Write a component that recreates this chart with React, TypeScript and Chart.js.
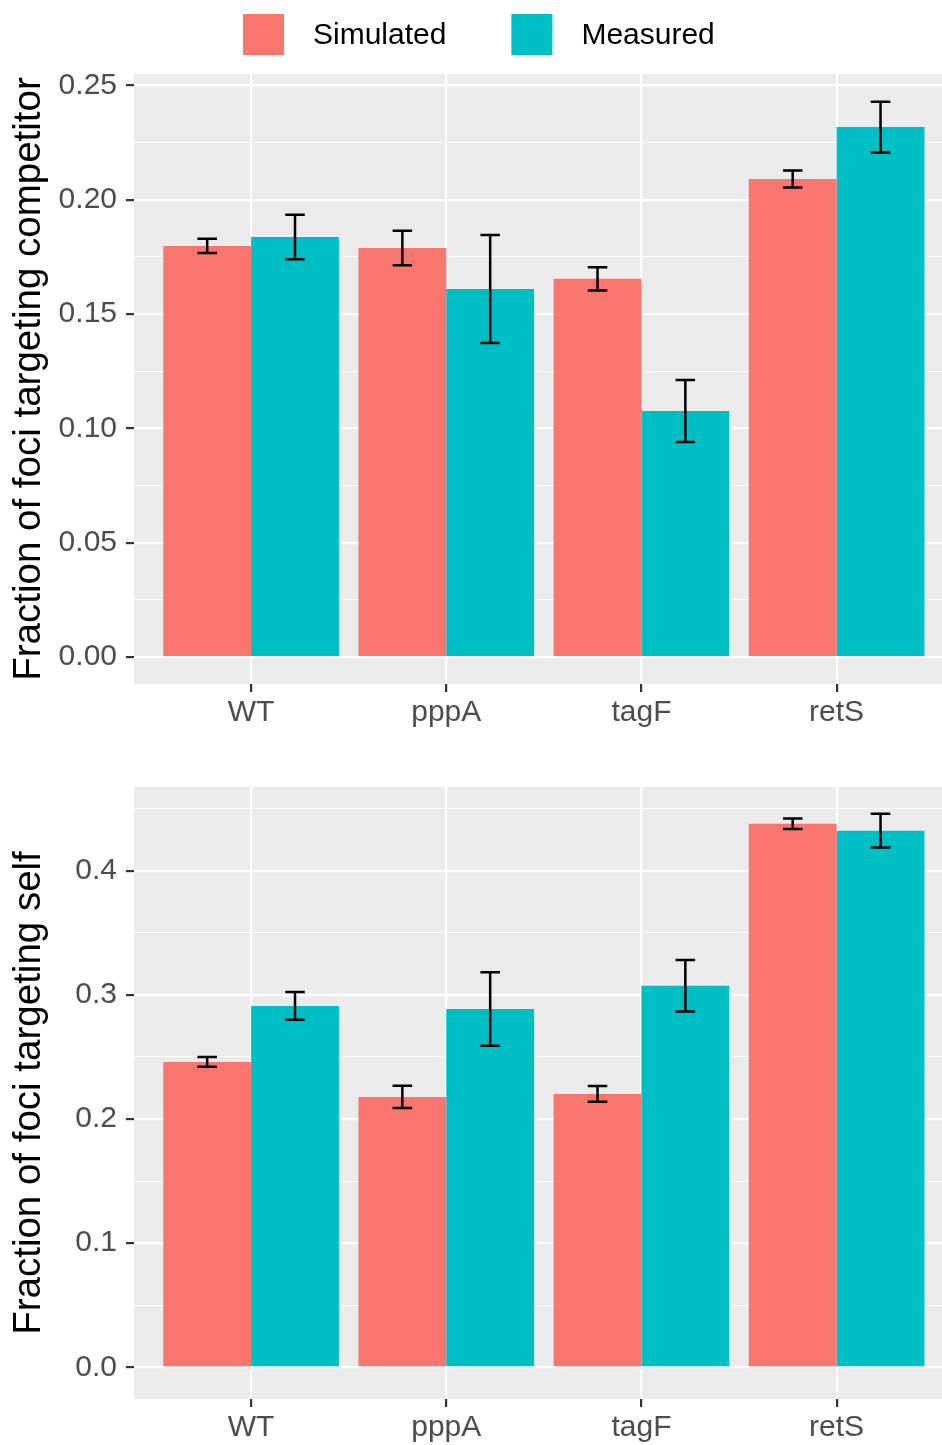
import React, { useEffect, useRef } from 'react';
import { Chart, registerables } from 'chart.js';

Chart.register(...registerables);

// ---------- data ----------
const categories = ['WT', 'pppA', 'tagF', 'retS'];
const seriesNames = ['Simulated', 'Measured'];
const seriesColors = ['#F8766D', '#00BFC4'];

const competitorSimulated = [0.1798, 0.1789, 0.1654, 0.2091];
const competitorSimulatedErr = [0.0031, 0.0075, 0.0051, 0.0037];
const competitorMeasured = [0.1837, 0.161, 0.1076, 0.2318];
const competitorMeasuredErr = [0.0097, 0.0236, 0.0136, 0.0111];

const selfSimulated = [0.246, 0.2178, 0.2202, 0.4378];
const selfSimulatedErr = [0.0039, 0.009, 0.0063, 0.0042];
const selfMeasured = [0.2911, 0.2887, 0.3073, 0.4322];
const selfMeasuredErr = [0.0112, 0.0296, 0.0208, 0.0136];

const competitorMajorTicks = [0, 0.05, 0.1, 0.15, 0.2, 0.25];
const competitorTickLabels = ['0.00', '0.05', '0.10', '0.15', '0.20', '0.25'];
const competitorMinorTicks = [0.025, 0.075, 0.125, 0.175, 0.225];
const competitorRange = [-0.0118, 0.255];

const selfMajorTicks = [0, 0.1, 0.2, 0.3, 0.4];
const selfTickLabels = ['0.0', '0.1', '0.2', '0.3', '0.4'];
const selfMinorTicks = [0.05, 0.15, 0.25, 0.35, 0.45];
const selfRange = [-0.0255, 0.4674];

const xRange = [0.4, 4.54];
const whiskerHalfWidth = 0.05;

const competitorTitle = 'Fraction of foci targeting competitor';
const selfTitle = 'Fraction of foci targeting self';

// ---------- styling ----------
const FONT = '"Liberation Sans", Arial, Helvetica, sans-serif';
Chart.defaults.font.family = FONT;

const panelBackground = {
  id: 'panelBackground',
  beforeDraw(chart: any) {
    const { ctx, chartArea: a } = chart;
    ctx.save();
    ctx.fillStyle = '#EBEBEB';
    ctx.fillRect(a.left, a.top, a.right - a.left, a.bottom - a.top);
    ctx.restore();
  },
};

const errorBars = {
  id: 'errorBars',
  afterDatasetsDraw(chart: any) {
    const { ctx } = chart;
    const xs = chart.scales.x;
    const ys = chart.scales.y;
    const half = Math.abs(xs.getPixelForValue(1 + whiskerHalfWidth) - xs.getPixelForValue(1));
    ctx.save();
    ctx.strokeStyle = '#000000';
    ctx.lineWidth = 2.5;
    ctx.lineCap = 'butt';
    chart.data.datasets.forEach((ds: any, di: number) => {
      const meta = chart.getDatasetMeta(di);
      meta.data.forEach((bar: any, i: number) => {
        const v = ds.data[i].y;
        const e = ds.errors[i];
        const yT = ys.getPixelForValue(v + e);
        const yB = ys.getPixelForValue(v - e);
        ctx.beginPath();
        ctx.moveTo(bar.x, yT);
        ctx.lineTo(bar.x, yB);
        ctx.moveTo(bar.x - half, yT);
        ctx.lineTo(bar.x + half, yT);
        ctx.moveTo(bar.x - half, yB);
        ctx.lineTo(bar.x + half, yB);
        ctx.stroke();
      });
    });
    ctx.restore();
  },
};

const topLegend = {
  id: 'topLegend',
  afterDraw(chart: any) {
    const { ctx } = chart;
    ctx.save();
    ctx.font = `30px ${FONT}`;
    ctx.textBaseline = 'middle';
    ctx.textAlign = 'left';
    let x = 243;
    seriesNames.forEach((name, i) => {
      ctx.fillStyle = seriesColors[i];
      ctx.fillRect(x, 14, 41, 41);
      ctx.fillStyle = '#000000';
      const tx = x + 41 + 29;
      ctx.fillText(name, tx, 35.5);
      x = tx + ctx.measureText(name).width + 65;
    });
    ctx.restore();
  },
};

function makeConfig(opts: {
  sim: number[];
  simErr: number[];
  meas: number[];
  measErr: number[];
  majors: number[];
  labels: string[];
  minors: number[];
  range: number[];
  title: string;
  paddingTop: number;
  xAxisHeight: number;
  withLegend: boolean;
}): any {
  const isMajor = (v: number) => opts.majors.some((m) => Math.abs(m - v) < 1e-9);
  const allTicks = [...opts.majors, ...opts.minors].sort((a, b) => a - b);
  const tickFont = { size: 30, family: FONT };
  return {
    type: 'bar',
    data: {
      datasets: [
        {
          label: seriesNames[0],
          data: categories.map((_, i) => ({ x: i + 1, y: opts.sim[i] })),
          errors: opts.simErr,
          backgroundColor: seriesColors[0],
          borderWidth: 0,
          categoryPercentage: 0.9,
          barPercentage: 1.0,
        },
        {
          label: seriesNames[1],
          data: categories.map((_, i) => ({ x: i + 1, y: opts.meas[i] })),
          errors: opts.measErr,
          backgroundColor: seriesColors[1],
          borderWidth: 0,
          categoryPercentage: 0.9,
          barPercentage: 1.0,
        },
      ],
    },
    options: {
      responsive: false,
      animation: false,
      devicePixelRatio: 1,
      layout: { padding: { top: opts.paddingTop, left: 0, right: 0, bottom: 0 } },
      plugins: {
        legend: { display: false },
        tooltip: { enabled: false },
      },
      scales: {
        x: {
          type: 'linear',
          min: xRange[0],
          max: xRange[1],
          offset: false,
          afterBuildTicks: (s: any) => {
            s.ticks = categories.map((_, i) => ({ value: i + 1 }));
          },
          afterFit: (s: any) => {
            s.height = opts.xAxisHeight;
          },
          ticks: {
            autoSkip: false,
            maxRotation: 0,
            padding: 3,
            color: '#4D4D4D',
            font: tickFont,
            callback: (v: number) => categories[Math.round(v) - 1] ?? '',
          },
          grid: {
            offset: false,
            color: '#FFFFFF',
            lineWidth: 2.2,
            tickColor: '#333333',
            tickLength: 8,
            tickWidth: 2.2,
          },
          border: { display: false },
        },
        y: {
          type: 'linear',
          min: opts.range[0],
          max: opts.range[1],
          afterBuildTicks: (s: any) => {
            s.ticks = allTicks.map((v) => ({ value: v }));
          },
          afterFit: (s: any) => {
            s.width = 134;
          },
          ticks: {
            autoSkip: false,
            padding: 9,
            color: '#4D4D4D',
            font: tickFont,
            callback: (v: number) => {
              const idx = opts.majors.findIndex((m) => Math.abs(m - v) < 1e-9);
              return idx >= 0 ? opts.labels[idx] : '';
            },
          },
          grid: {
            color: '#FFFFFF',
            lineWidth: (ctx: any) => (ctx.tick && isMajor(ctx.tick.value) ? 2.2 : 1.1),
            tickColor: (ctx: any) => (ctx.tick && isMajor(ctx.tick.value) ? '#333333' : 'rgba(0,0,0,0)'),
            tickLength: 8,
            tickWidth: 2.2,
          },
          border: { display: false },
          title: {
            display: true,
            text: opts.title,
            color: '#000000',
            font: { size: 38.5, family: FONT },
            padding: { top: 6, bottom: 0 },
          },
        },
      },
    },
    plugins: opts.withLegend ? [panelBackground, errorBars, topLegend] : [panelBackground, errorBars],
  };
}

function Panel({ config, width, height }: { config: () => any; width: number; height: number }) {
  const ref = useRef<HTMLCanvasElement | null>(null);
  useEffect(() => {
    if (!ref.current) return;
    const chart = new Chart(ref.current, config());
    return () => chart.destroy();
  }, []);
  return <canvas ref={ref} width={width} height={height} style={{ display: 'block', width, height }} />;
}

export default function App() {
  return (
    <div style={{ position: 'absolute', left: 0, top: 0, width: 942, height: 1445, background: '#FFFFFF' }}>
      <Panel
        width={942}
        height={745}
        config={() =>
          makeConfig({
            sim: competitorSimulated,
            simErr: competitorSimulatedErr,
            meas: competitorMeasured,
            measErr: competitorMeasuredErr,
            majors: competitorMajorTicks,
            labels: competitorTickLabels,
            minors: competitorMinorTicks,
            range: competitorRange,
            title: competitorTitle,
            paddingTop: 74,
            xAxisHeight: 61,
            withLegend: true,
          })
        }
      />
      <Panel
        width={942}
        height={700}
        config={() =>
          makeConfig({
            sim: selfSimulated,
            simErr: selfSimulatedErr,
            meas: selfMeasured,
            measErr: selfMeasuredErr,
            majors: selfMajorTicks,
            labels: selfTickLabels,
            minors: selfMinorTicks,
            range: selfRange,
            title: selfTitle,
            paddingTop: 42,
            xAxisHeight: 46,
            withLegend: false,
          })
        }
      />
    </div>
  );
}
